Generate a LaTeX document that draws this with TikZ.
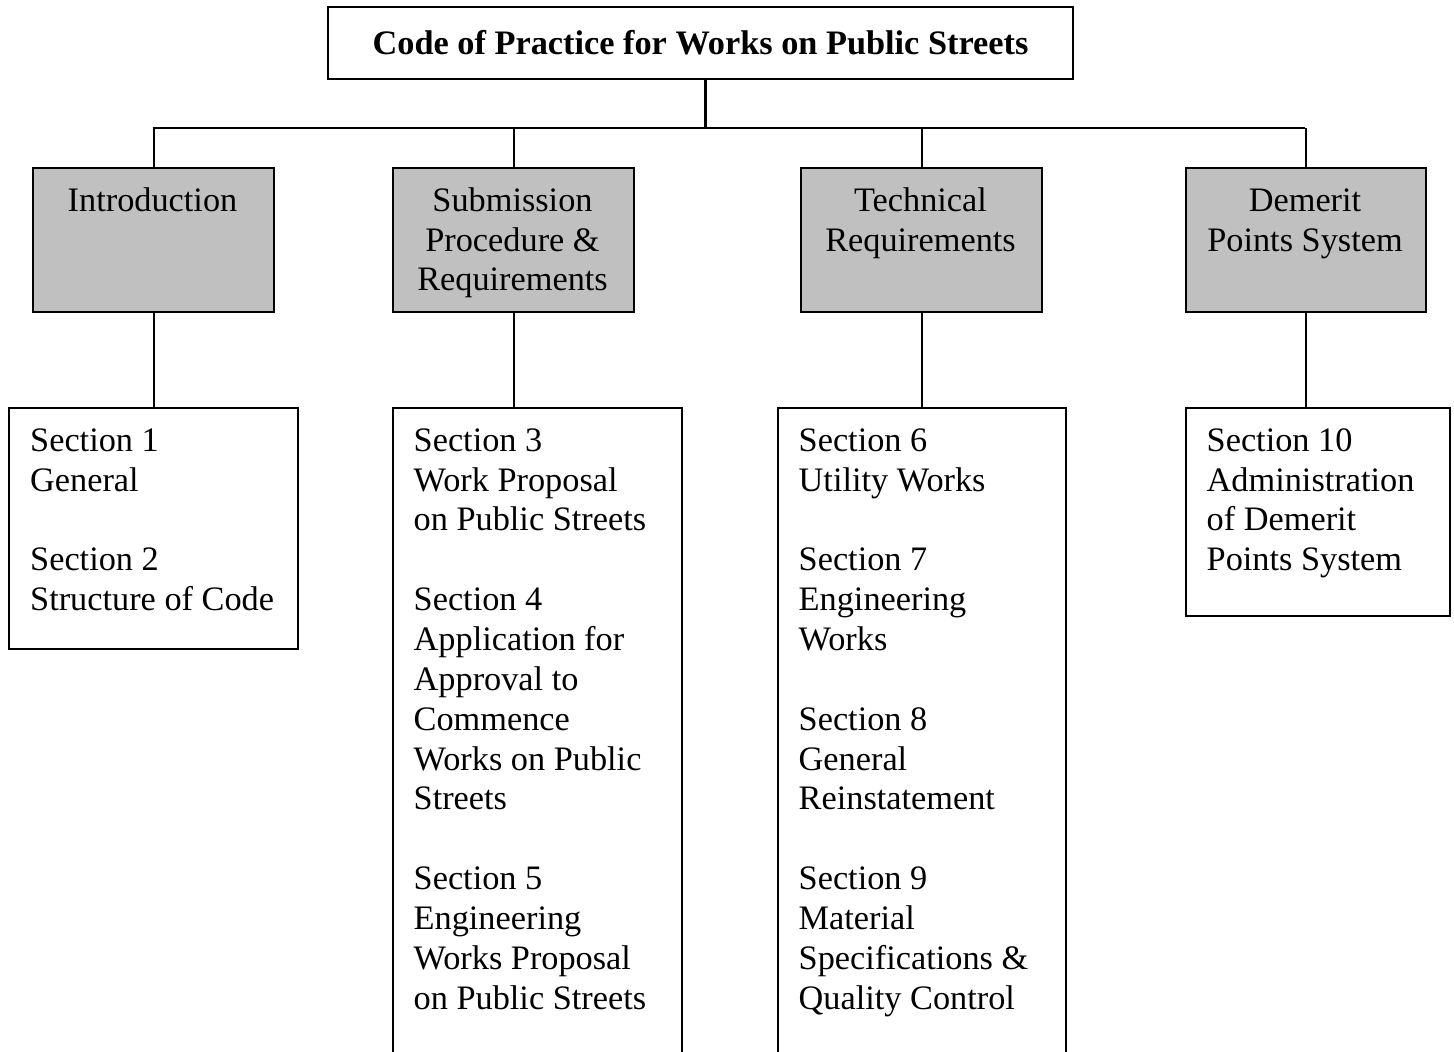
\documentclass[tikz,border=0pt]{standalone}
\usepackage{fontspec}
\setmainfont{Liberation Serif}
\definecolor{hdrgray}{HTML}{C0C0C0}
\begin{document}
\begin{tikzpicture}[x=1pt,y=-1pt,
  every node/.style={font=\fontsize{34.3}{39.85}\selectfont},
  ln/.style={line width=2.2pt},
  titlebox/.style={draw,ln,fill=white,minimum width=745pt,minimum height=72pt,inner sep=0pt,font=\fontsize{34.3}{39.85}\selectfont\bfseries},
  hdr/.style={draw,ln,fill=hdrgray,minimum width=241pt,minimum height=144pt,inner sep=0pt,anchor=north west},
  hdrtxt/.style={align=center,anchor=north,inner sep=0pt},
  secbox/.style={draw,ln,fill=white,inner sep=0pt,anchor=north west},
  sectxt/.style={align=left,anchor=north west,inner sep=0pt}]
\useasboundingbox (0,0) rectangle (1454,1052);
\clip (0,0) rectangle (1454,1052);
% title
\node[titlebox] (title) at (700.5,43) {Code of Practice for Works on Public Streets};
% headers
\node[hdr] (h1) at (32,167) {};
\node[hdr] (h2) at (392,167) {};
\node[hdr] (h3) at (800,167) {};
\node[hdr,minimum width=240pt] (h4) at (1185,167) {};
\node[hdrtxt] (h1t) at (152.5,183.1) {\strut Introduction};
\node[hdrtxt] (h2t) at (512.5,183.1) {\strut Submission\\Procedure \&\\Requirements};
\node[hdrtxt] (h3t) at (920.5,183.1) {\strut Technical\\Requirements};
\node[hdrtxt] (h4t) at (1305,183.1) {\strut Demerit\\Points System};
% section boxes
\node[secbox,minimum width=289pt,minimum height=241pt] (s1) at (8,407) {};
\node[secbox,minimum width=289pt,minimum height=700pt] (s2) at (392,407) {};
\node[secbox,minimum width=288pt,minimum height=700pt] (s3) at (777,407) {};
\node[secbox,minimum width=264pt,minimum height=208pt] (s4) at (1185,407) {};
\node[sectxt] (s1t) at (30,423.1) {\strut Section 1\\General\\[39.85pt]Section 2\\Structure of Code};
\node[sectxt] (s2t) at (413.5,423.1) {\strut Section 3\\Work Proposal\\on Public Streets\\[39.85pt]Section 4\\Application for\\Approval to\\Commence\\Works on Public\\Streets\\[39.85pt]Section 5\\Engineering\\Works Proposal\\on Public Streets};
\node[sectxt] (s3t) at (798.5,423.1) {\strut Section 6\\Utility Works\\[39.85pt]Section 7\\Engineering\\Works\\[39.85pt]Section 8\\General\\Reinstatement\\[39.85pt]Section 9\\Material\\Specifications \&\\Quality Control};
\node[sectxt] (s4t) at (1206.5,423.1) {\strut Section 10\\Administration\\of Demerit\\Points System};
% connectors
\coordinate (busL) at (152.5,128);
\coordinate (busR) at (1305,128);
\coordinate (tj) at (705.5,79);
\draw[ln] (busL) -- (busR);
\draw[ln] (tj) -- (tj |- busL);
\foreach \h in {h1,h2,h3,h4}{\draw[ln] (\h.north) -- (\h.north |- busL);}
\draw[ln] (h1.south) -- (h1.south |- s1.north);
\draw[ln] (h2.south) -- (h2.south |- s2.north);
\draw[ln] (h3.south) -- (h3.south |- s3.north);
\draw[ln] (h4.south) -- (h4.south |- s4.north);
\end{tikzpicture}
\end{document}
